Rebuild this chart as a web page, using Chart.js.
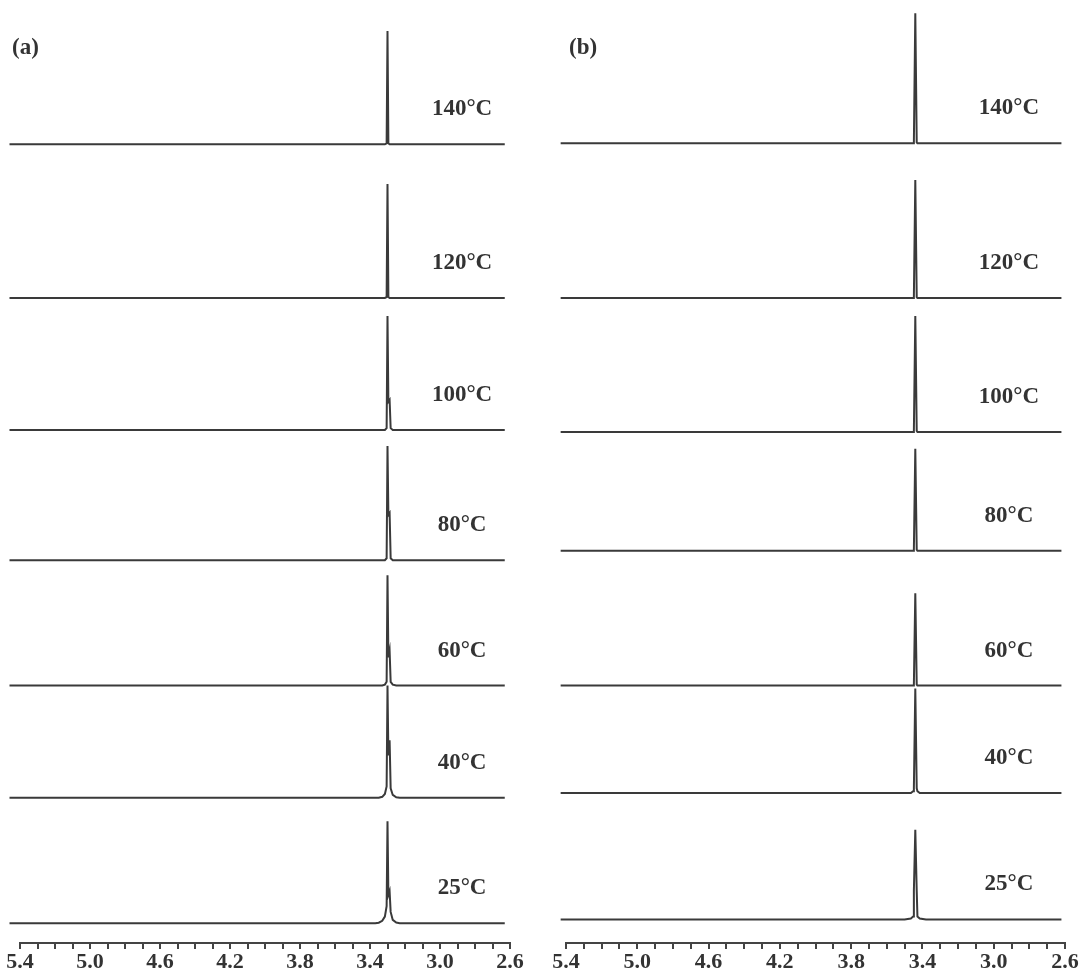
<!DOCTYPE html>
<html lang="en">
<head>
    <meta charset="UTF-8">
    <title>VT NMR spectra</title>
    <script src="https://cdn.jsdelivr.net/npm/chart.js"></script>
    <style>
        body {
            margin: 0;
            background: #fff;
        }
        .wrap {
            position: relative;
            width: 1079px;
            height: 978px;
        }
        .panel {
            position: absolute;
            top: 0;
        }
        #panelA { left: 0; }
        #panelB { left: 540px; }
    </style>
</head>
<body>
    <div class="wrap">
        <div class="panel" id="panelA"><canvas id="chartA" width="540" height="978"></canvas></div>
        <div class="panel" id="panelB"><canvas id="chartB" width="539" height="978"></canvas></div>
    </div>

    <script>
        // temperatures, top to bottom
        const temps = ['140', '120', '100', '80', '60', '40', '25'];
        const tickLabels = ['2.6', '3.0', '3.4', '3.8', '4.2', '4.6', '5.0', '5.4'];

        // stacking offset of each trace (arbitrary intensity units)
        const offsetsA = [8.47, 6.84, 5.44, 4.06, 2.73, 1.54, 0.21];
        const offsetsB = [8.48, 6.84, 5.42, 4.16, 2.73, 1.59, 0.25];

        // (a) chemical shift points (ppm) and intensities
        const ppmA = [5.46, 3.37, 3.35, 3.33, 3.315, 3.305, 3.300, 3.295, 3.288, 3.282, 3.27, 3.25, 3.23, 2.63];
        const a140 = [0, 0, 0, 0, 0, 0.01, 1.20, 0.01, 0, 0, 0, 0, 0, 0];
        const a120 = [0, 0, 0, 0, 0, 0.01, 1.21, 0.01, 0, 0, 0, 0, 0, 0];
        const a100 = [0, 0, 0, 0, 0, 0.02, 1.21, 0.30, 0.32, 0.02, 0, 0, 0, 0];
        const a80  = [0, 0, 0, 0, 0, 0.02, 1.21, 0.48, 0.50, 0.02, 0, 0, 0, 0];
        const a60  = [0, 0, 0, 0, 0.01, 0.04, 1.17, 0.30, 0.37, 0.04, 0.01, 0, 0, 0];
        const a40  = [0, 0, 0, 0.01, 0.04, 0.12, 1.19, 0.45, 0.61, 0.10, 0.03, 0.005, 0, 0];
        const a25  = [0, 0, 0.005, 0.025, 0.07, 0.18, 1.08, 0.30, 0.34, 0.12, 0.035, 0.008, 0, 0];

        // (b)
        const ppmB = [5.43, 3.50, 3.465, 3.452, 3.448, 3.440, 3.432, 3.428, 3.415, 3.38, 2.62];
        const b140 = [0, 0, 0, 0, 0.01, 1.38, 0.01, 0, 0, 0, 0];
        const b120 = [0, 0, 0, 0, 0.01, 1.25, 0.01, 0, 0, 0, 0];
        const b100 = [0, 0, 0, 0, 0.01, 1.23, 0.01, 0, 0, 0, 0];
        const b80  = [0, 0, 0, 0, 0.01, 1.08, 0.01, 0, 0, 0, 0];
        const b60  = [0, 0, 0, 0, 0.01, 0.98, 0.01, 0, 0, 0, 0];
        const b40  = [0, 0, 0, 0.02, 0.05, 1.11, 0.05, 0.02, 0, 0, 0];
        const b25  = [0, 0, 0.01, 0.03, 0.30, 0.95, 0.30, 0.03, 0.01, 0, 0];

        const lineColor = '#3a3a3a';
        const textColor = '#333';
        const serif = '"Liberation Serif", "DejaVu Serif", serif';

        function makeDatasets(ppm, series, offsets) {
            return series.map((vals, i) => ({
                label: temps[i] + '°C',
                data: ppm.map((p, j) => ({ x: p, y: vals[j] + offsets[i] })),
                borderColor: lineColor,
                borderWidth: 2,
                pointRadius: 0,
                tension: 0,
                clip: false
            }));
        }

        const labelPlugin = {
            id: 'tempLabels',
            afterDatasetsDraw(chart, args, opts) {
                const { ctx, scales: { x, y } } = chart;
                ctx.save();
                ctx.fillStyle = textColor;
                ctx.textBaseline = 'middle';
                ctx.textAlign = 'center';
                ctx.font = 'bold 23px ' + serif;
                opts.offsets.forEach((off, i) => {
                    ctx.fillText(temps[i] + '°C', x.getPixelForValue(opts.labelPpm), y.getPixelForValue(off + 0.37));
                });
                // panel letter, in canvas pixels
                ctx.textAlign = 'left';
                ctx.fillText(opts.panel, opts.panelX, 48);
                ctx.restore();
            }
        };

        function createChart(id, ppm, series, offsets, pad, panel, panelX, labelPpm) {
            const ctx = document.getElementById(id).getContext('2d');
            return new Chart(ctx, {
                type: 'line',
                data: { datasets: makeDatasets(ppm, series, offsets) },
                plugins: [labelPlugin],
                options: {
                    responsive: false,
                    animation: false,
                    layout: { padding: { left: pad[0], right: pad[1], top: 0, bottom: 0 } },
                    plugins: {
                        legend: { display: false },
                        tooltip: { enabled: false },
                        tempLabels: { offsets: offsets, panel: panel, panelX: panelX, labelPpm: labelPpm }
                    },
                    scales: {
                        x: {
                            type: 'linear',
                            reverse: true,
                            min: 2.6,
                            max: 5.4,
                            afterFit(scale) { scale.height = 35; },
                            border: { display: true, color: '#444', width: 2 },
                            grid: {
                                drawOnChartArea: false,
                                drawTicks: true,
                                tickLength: 6,
                                color: '#444',
                                lineWidth: 2
                            },
                            ticks: {
                                stepSize: 0.1,
                                autoSkip: false,
                                maxRotation: 0,
                                padding: 0,
                                color: textColor,
                                font: { family: serif, size: 22, weight: 'bold' },
                                callback(v) {
                                    const idx = Math.round((v - 2.6) * 10);
                                    return idx % 4 === 0 ? tickLabels[idx / 4] : '';
                                }
                            }
                        },
                        y: {
                            display: false,
                            min: 0,
                            max: 10
                        }
                    }
                }
            });
        }

        createChart('chartA', ppmA, [a140, a120, a100, a80, a60, a40, a25], offsetsA, [20, 30], '(a)', 12, 2.874);
        createChart('chartB', ppmB, [b140, b120, b100, b80, b60, b40, b25], offsetsB, [26, 14], '(b)', 29, 2.915);
    </script>
</body>
</html>
